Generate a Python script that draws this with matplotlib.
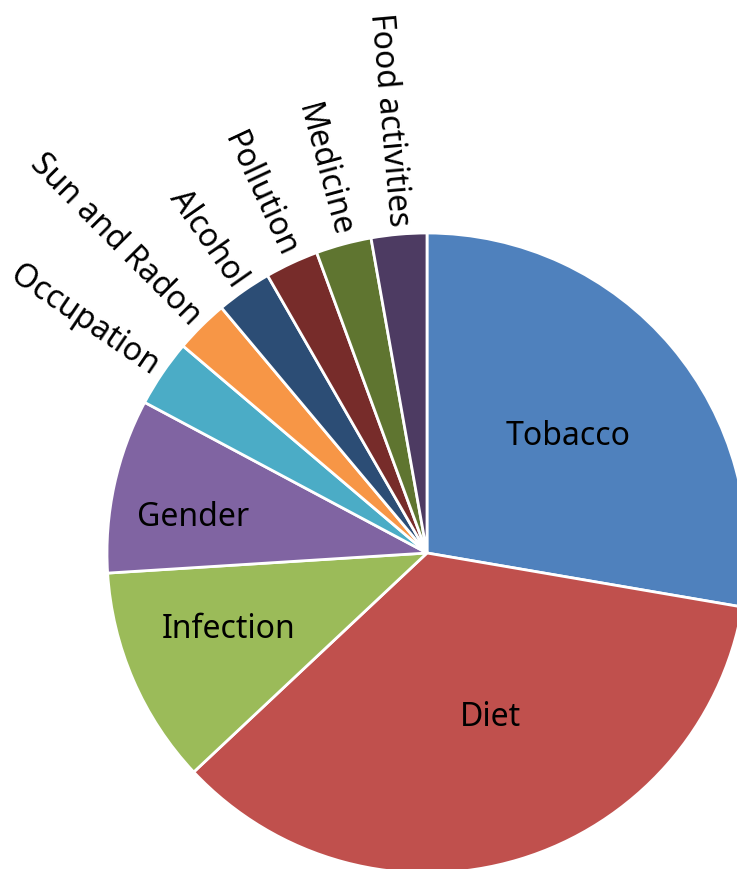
import numpy as np
import matplotlib.pyplot as plt

causes = ["Tobacco", "Diet", "Infection", "Gender", "Occupation",
          "Sun and Radon", "Alcohol", "Pollution", "Medicine", "Food activities"]
shares = [27.7, 35.3, 11.0, 8.8, 3.4, 2.7, 2.8, 2.7, 2.8, 2.8]
colors = ["#4F81BD", "#C0504D", "#9BBB59", "#8064A2", "#4BACC6",
          "#F79646", "#2C4D75", "#772C2A", "#5F7530", "#4D3B62"]

# big slices get a horizontal label inside: (fraction of radius, angle nudge in deg)
inside_pos = {
    "Tobacco": (0.57, -0.6),
    "Diet": (0.55, 4.4),
    "Infection": (0.665, -2.2),
    "Gender": (0.74, 3.6),
}

W, H = 737, 869
cx, cy, r = 427, H - 553, 320

plt.rcParams["font.family"] = ["Noto Sans", "DejaVu Sans"]

fig = plt.figure(figsize=(W / 100, H / 100), dpi=100)
ax = fig.add_axes([0, 0, 1, 1])

wedges, _ = ax.pie(
    shares,
    colors=colors,
    startangle=90,
    counterclock=False,
    center=(cx, cy),
    radius=r,
    wedgeprops=dict(edgecolor="white", linewidth=2),
)

for w, name in zip(wedges, causes):
    mid_deg = (w.theta1 + w.theta2) / 2
    if name in inside_pos:
        frac, nudge = inside_pos[name]
        a = np.deg2rad(mid_deg + nudge)
        d = frac * r
        ax.text(cx + d * np.cos(a), cy + d * np.sin(a), name,
                ha="center", va="center", fontsize=23, color="black")
    else:
        # small slices: label runs radially, ending just outside the rim
        a = np.deg2rad(mid_deg)
        d = r + 8
        ax.text(cx + d * np.cos(a), cy + d * np.sin(a), name,
                ha="right", va="center", rotation=mid_deg + 180,
                rotation_mode="anchor", fontsize=23, color="black")

ax.set_xlim(0, W)
ax.set_ylim(0, H)
ax.set_aspect("equal")
ax.axis("off")

fig.savefig("out.png", dpi=100)
